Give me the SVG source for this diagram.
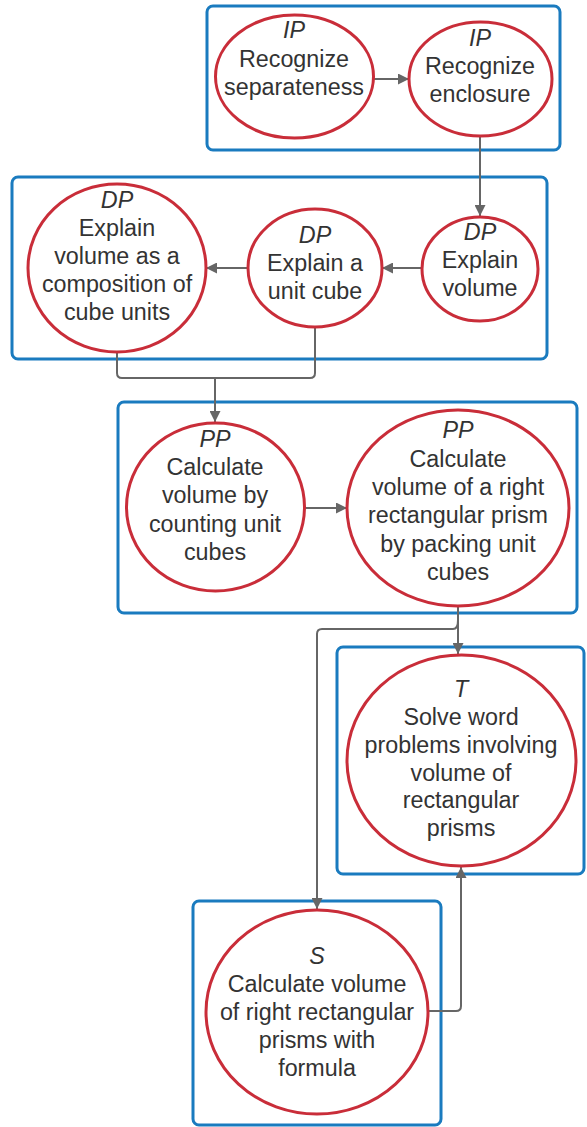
<svg xmlns="http://www.w3.org/2000/svg" width="587" height="1127" viewBox="0 0 587 1127">
<style>
.box{fill:none;stroke:#1a7bbf;stroke-width:3}
.node{fill:#fff;stroke:#c92d39;stroke-width:3}
.t{font-family:"Liberation Sans",Arial,sans-serif;font-size:23.3px;fill:#333;text-anchor:middle}
.i{font-style:italic}
.c{fill:none;stroke:#666;stroke-width:2}
</style>
<defs>
<marker id="ah" viewBox="0 0 10 10" refX="10" refY="5" markerWidth="11" markerHeight="11" markerUnits="userSpaceOnUse" orient="auto">
<path d="M0,0 L10,5 L0,10 Z" fill="#666"/>
</marker>
</defs>
<g id="containers">
<rect class="box" x="207" y="6" width="353" height="144" rx="6"/>
<rect class="box" x="12" y="177" width="535" height="182" rx="6"/>
<rect class="box" x="118" y="402" width="459" height="211" rx="6"/>
<rect class="box" x="337" y="647" width="247" height="227" rx="6"/>
<rect class="box" x="193" y="901" width="248" height="224" rx="6"/>
</g>
<g id="connectors">
<path class="c" d="M374,79 H409" marker-end="url(#ah)"/>
<path class="c" d="M480,136 V216" marker-end="url(#ah)"/>
<path class="c" d="M422,268 H382" marker-end="url(#ah)"/>
<path class="c" d="M248,268 H206" marker-end="url(#ah)"/>
<path class="c" d="M117,352 V373 Q117,378 122,378 H310 Q315,378 315,373 V327"/>
<path class="c" d="M215,378 V422" marker-end="url(#ah)"/>
<path class="c" d="M304,508 H347" marker-end="url(#ah)"/>
<path class="c" d="M458,606 V654" marker-end="url(#ah)"/>
<path class="c" d="M458,620 Q458,629 453,629 H322 Q317,629 317,634 V909" marker-end="url(#ah)"/>
<path class="c" d="M428,1011 H456 Q461,1011 461,1006 V867" marker-end="url(#ah)"/>
</g>
<g id="n-ip1">
<ellipse class="node" cx="294.5" cy="76.5" rx="79" ry="61.5"/>
<text class="t i" x="294" y="38">IP</text>
<text class="t" x="294" y="67">Recognize</text>
<text class="t" x="294" y="95">separateness</text>
</g>
<g id="n-ip2">
<ellipse class="node" cx="480.5" cy="79" rx="71.5" ry="57"/>
<text class="t i" x="480" y="46">IP</text>
<text class="t" x="480" y="74">Recognize</text>
<text class="t" x="480" y="102">enclosure</text>
</g>
<g id="n-dp1">
<ellipse class="node" cx="117" cy="268" rx="89" ry="84"/>
<text class="t i" x="117" y="208">DP</text>
<text class="t" x="117" y="236">Explain</text>
<text class="t" x="117" y="264">volume as a</text>
<text class="t" x="117" y="292">composition of</text>
<text class="t" x="117" y="320">cube units</text>
</g>
<g id="n-dp2">
<ellipse class="node" cx="315" cy="268" rx="67" ry="59"/>
<text class="t i" x="315" y="243">DP</text>
<text class="t" x="315" y="271">Explain a</text>
<text class="t" x="315" y="299">unit cube</text>
</g>
<g id="n-dp3">
<ellipse class="node" cx="480" cy="269" rx="58" ry="52"/>
<text class="t i" x="480" y="240">DP</text>
<text class="t" x="480" y="268">Explain</text>
<text class="t" x="480" y="296">volume</text>
</g>
<g id="n-pp1">
<ellipse class="node" cx="215.5" cy="507" rx="89" ry="84"/>
<text class="t i" x="215" y="447">PP</text>
<text class="t" x="215" y="475">Calculate</text>
<text class="t" x="215" y="503">volume by</text>
<text class="t" x="215" y="532">counting unit</text>
<text class="t" x="215" y="560">cubes</text>
</g>
<g id="n-pp2">
<ellipse class="node" cx="458" cy="508" rx="111" ry="98"/>
<text class="t i" x="458" y="438">PP</text>
<text class="t" x="458" y="467">Calculate</text>
<text class="t" x="458" y="495">volume of a right</text>
<text class="t" x="458" y="523">rectangular prism</text>
<text class="t" x="458" y="552">by packing unit</text>
<text class="t" x="458" y="580">cubes</text>
</g>
<g id="n-t">
<ellipse class="node" cx="461.5" cy="760.5" rx="114.5" ry="105.5"/>
<text class="t i" x="461" y="697">T</text>
<text class="t" x="461" y="725">Solve word</text>
<text class="t" x="461" y="753">problems involving</text>
<text class="t" x="461" y="781">volume of</text>
<text class="t" x="461" y="808">rectangular</text>
<text class="t" x="461" y="836">prisms</text>
</g>
<g id="n-s">
<ellipse class="node" cx="317" cy="1012" rx="111" ry="102"/>
<text class="t i" x="317" y="964">S</text>
<text class="t" x="317" y="992">Calculate volume</text>
<text class="t" x="317" y="1020">of right rectangular</text>
<text class="t" x="317" y="1048">prisms with</text>
<text class="t" x="317" y="1076">formula</text>
</g>
</svg>
